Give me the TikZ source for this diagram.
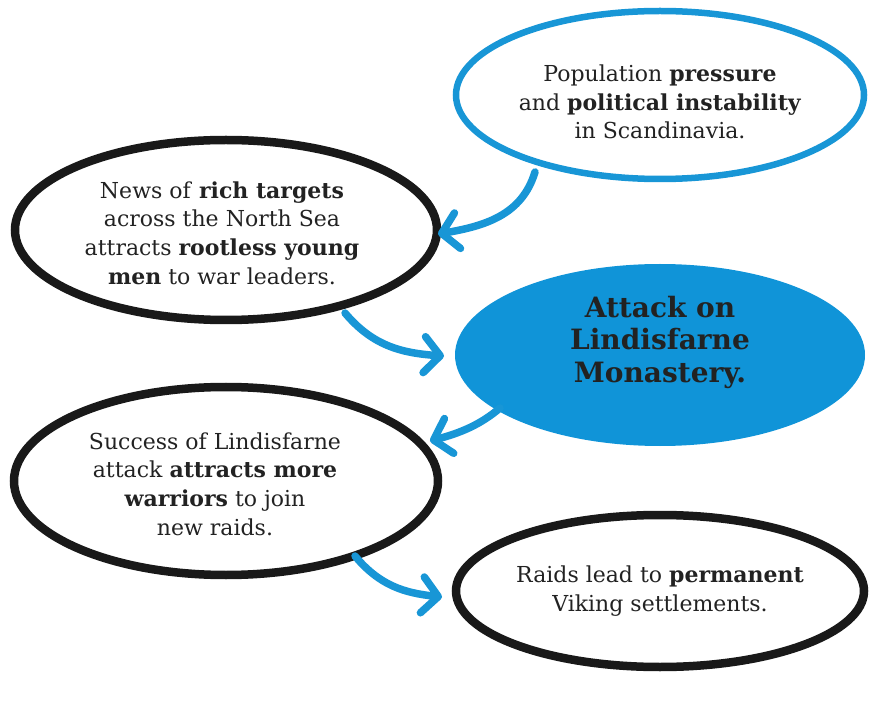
\documentclass[tikz,border=0pt]{standalone}
\usepackage{fontspec}
\setmainfont{DejaVu Serif}
\usetikzlibrary{shapes.geometric,arrows.meta}
\definecolor{vblue}{RGB}{24,150,214}
\definecolor{vfill}{RGB}{16,148,216}
\definecolor{ink}{RGB}{34,34,34}
\tikzset{
  oval/.style={ellipse, draw, inner sep=0pt},
  blueoval/.style={oval, draw=vblue, line width=6.5pt},
  blackoval/.style={oval, draw=black!90, line width=8.5pt},
  filloval/.style={oval, draw=none, fill=vfill},
  txt/.style={align=center, text=ink, font=\fontsize{22}{28.8}\selectfont},
  ttl/.style={align=center, text=ink, font=\fontsize{28}{32.5}\selectfont\bfseries},
  flow/.style={draw=vblue, line width=7.5pt, line cap=round, line join=round,
    -{Straight Barb[length=16pt, width=36pt, line width=7.5pt, round]}}
}
\begin{document}
\begin{tikzpicture}[x=1pt, y=-1pt]
\useasboundingbox (0,0) rectangle (870,708);
\node[blueoval, minimum width=408pt, minimum height=168pt] (pop) at (660,95) {};
\node[blackoval, minimum width=422pt, minimum height=180pt] (news) at (226,230) {};
\node[filloval, minimum width=410pt, minimum height=182pt] (att) at (660,355) {};
\node[blackoval, minimum width=424pt, minimum height=188pt] (succ) at (226,481) {};
\node[blackoval, minimum width=408pt, minimum height=152pt] (raid) at (660,591) {};

\node[txt] (popt) at (660,102) {Population \textbf{pressure}\\and \textbf{political instability}\\in Scandinavia.};
\node[txt] (newst) at (222,233) {News of \textbf{rich targets}\\across the North Sea\\attracts \textbf{rootless young}\\\textbf{men} to war leaders.};
\node[ttl] (attt) at (660,342) {Attack on\\Lindisfarne\\Monastery.};
\node[txt] (succt) at (215,484) {Success of Lindisfarne\\attack \textbf{attracts more}\\\textbf{warriors} to join\\new raids.};
\node[txt] (raidt) at (660,591) {Raids lead to \textbf{permanent}\\Viking settlements.};

\coordinate (a1s) at (535,172);
\coordinate (a1e) at (438,234);
\coordinate (a2s) at (345,313);
\coordinate (a2e) at (444,356);
\coordinate (a3s) at (500,408);
\coordinate (a3e) at (430,441);
\coordinate (a4s) at (355,556);
\coordinate (a4e) at (442,597);

\draw[flow] (a1s) .. controls (522,215) and (485,226) .. (a1e);
\draw[flow] (a2s) .. controls (372,345) and (400,353) .. (a2e);
\draw[flow] (a3s) .. controls (480,425) and (460,433) .. (a3e);
\draw[flow] (a4s) .. controls (380,586) and (405,593) .. (a4e);
\end{tikzpicture}
\end{document}
